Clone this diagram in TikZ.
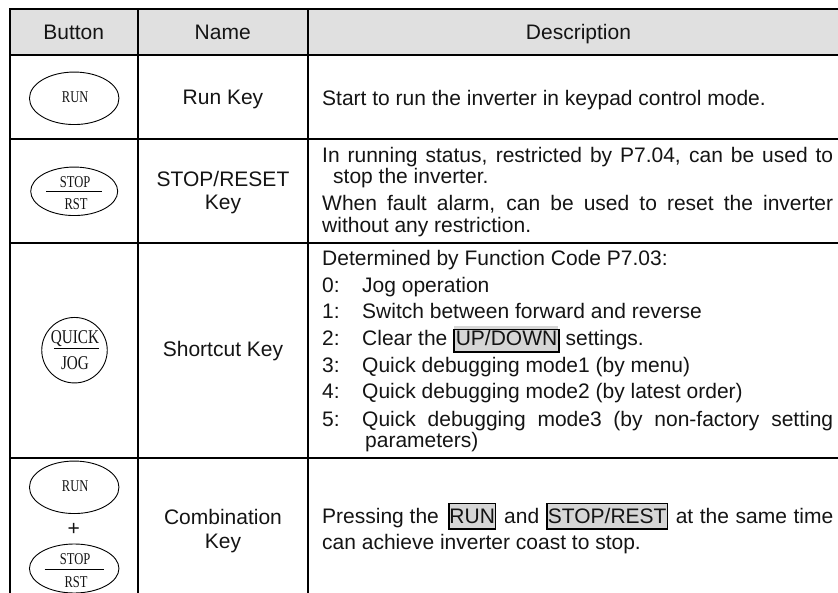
\documentclass[tikz,border=0pt]{standalone}
\usepackage{fontspec}
\usetikzlibrary{shapes.geometric}
\setmainfont{Liberation Sans}
\newfontfamily\keyfont{Liberation Serif}
\definecolor{hdr}{HTML}{E0E0E0}
\definecolor{mk}{HTML}{D6D6D6}
\definecolor{ink}{HTML}{141414}
\tikzset{x=1pt,y=-1pt,
 rule/.style={line width=1.7pt,black},
 txt/.style={font=\fontsize{21}{23}\selectfont,inner sep=0pt,text=ink},
 ln/.style={txt,anchor=base west},
 ctr/.style={txt,anchor=base},
 keyov/.style={draw,ellipse,line width=0.9pt,minimum width=89.5pt,minimum height=52.5pt,inner sep=0pt},
 keyovb/.style={draw,ellipse,line width=0.9pt,minimum width=87pt,minimum height=48.5pt,inner sep=0pt},
 keytxt/.style={inner sep=0pt,font=\keyfont\fontsize{16.5}{18}\selectfont,xscale=.76,text=ink},
 keybig/.style={inner sep=0pt,font=\keyfont\fontsize{19.5}{21}\selectfont,xscale=.78,text=ink},
 keyrule/.style={line width=1pt,black},
 mkbox/.style={txt,anchor=base,fill=mk,draw=black,line width=1.4pt,inner sep=0pt}}
\newcommand{\just}[1]{\makebox[511pt][s]{#1}}
\newcommand{\justb}[1]{\makebox[471pt][s]{#1}}
\begin{document}
\begin{tikzpicture}
\useasboundingbox (0,0) rectangle (838,593);
\fill[hdr] (10,9) rectangle (838,55);
% grid
\draw[rule] (10,593) -- (10,9) -- (838,9);
\draw[rule] (137.7,9) -- (137.7,593);
\draw[rule] (308.3,9) -- (308.3,593);
\draw[rule] (10,55) -- (838,55);
\draw[rule] (10,139.3) -- (838,139.3);
\draw[rule] (10,242.7) -- (838,242.7);
\draw[rule] (10,458) -- (838,458);
% header
\node[ctr] (hb) at (73.7,40) {Button};
\node[ctr] (hn) at (222.7,40) {Name};
\node[ctr] (hd) at (578.5,40) {Description};
% names
\node[ctr] (n1) at (223,105) {Run Key};
\node[ctr] (n2a) at (223,186.7) {STOP/RESET};
\node[ctr] (n2b) at (223,210) {Key};
\node[ctr] (n3) at (223,356.7) {Shortcut Key};
\node[ctr] (n4a) at (223,524) {Combination};
\node[ctr] (n4b) at (223,548) {Key};
% keys
\node[keyov] (k1) at (74.2,98.3) {};
\node[keytxt] (k1t) at (75.2,97.5) {RUN};
\node[keyovb] (k2) at (74.2,191.3) {};
\node[keytxt] (k2a) at (75.2,182.3) {STOP};
\node[keytxt] (k2b) at (76,204) {RST};
\coordinate (k2l) at (46,191.7);
\coordinate (k2r) at (102.3,191.7);
\draw[keyrule] (k2l) -- (k2r);
\node[draw,circle,line width=0.9pt,minimum size=65.5pt,inner sep=0pt] (k3) at (74.5,350.2) {};
\node[keybig] (k3a) at (75,338.5) {QUICK};
\node[keybig] (k3b) at (75,363) {JOG};
\coordinate (k3l) at (54.3,348.7);
\coordinate (k3r) at (99,348.7);
\draw[keyrule] (k3l) -- (k3r);
\node[keyov] (k4) at (74.2,487.3) {};
\node[keytxt] (k4t) at (75.2,486) {RUN};
\node[txt] (pl) at (73.7,529) {+};
\node[keyov,minimum height=49pt] (k5) at (74.2,568.5) {};
\node[keytxt] (k5a) at (75.2,558.7) {STOP};
\node[keytxt] (k5b) at (76,582) {RST};
\coordinate (k5l) at (44.7,569);
\coordinate (k5r) at (104,569);
\draw[keyrule] (k5l) -- (k5r);
% description
\node[ln] (d1) at (322,105.5) {Start to run the inverter in keypad control mode.};
\node[ln] (d2) at (322,162.5) {\just{In running status, restricted by P7.04, can be used to}};
\node[ln] (d3) at (333,184) {stop the inverter.};
\node[ln] (d4) at (322,210.7) {\just{When fault alarm, can be used to reset the inverter}};
\node[ln] (d5) at (322,232.7) {without any restriction.};
\node[ln] (d6) at (322,266) {Determined by Function Code P7.03:};
\foreach \n/\y/\t in {0/292.7/Jog operation,1/319/Switch between forward and reverse,3/373/Quick debugging mode1 (by menu),4/399/Quick debugging mode2 (by latest order)}{
 \node[ln] (a\n) at (322,\y) {\n:};
 \node[ln] (b\n) at (362,\y) {\t};
}
\node[ln] (a2) at (322,346) {2:};
\node[ln] (b2) at (362,346) {Clear the};
\fill[mk] (454,326) rectangle (558,332);
\node[mkbox,minimum width=105pt,text height=16.5pt,text depth=6pt] (m2) at (506.5,346) {UP/DOWN};
\node[ln] (c2) at (565.4,346) {settings.};
\node[ln] (a5) at (322,426) {5:};
\node[ln] (b5) at (362,426) {\justb{Quick debugging mode3 (by non-factory setting}};
\node[ln] (b5b) at (365,447) {parameters)};
\node[ln] (e1) at (322,523) {Pressing the};
\node[mkbox,minimum width=46.5pt,text height=19.5pt,text depth=6pt] (m3) at (472.2,523) {RUN};
\node[ln] (e2) at (504,523) {and};
\node[mkbox,minimum width=120.5pt,text height=19.5pt,text depth=6pt] (m4) at (607.2,523) {STOP/REST};
\node[ln] (e3) at (675.6,523) {\makebox[157.5pt][s]{at the same time}};
\node[ln] (e4) at (322,549.3) {can achieve inverter coast to stop.};
\end{tikzpicture}
\end{document}
